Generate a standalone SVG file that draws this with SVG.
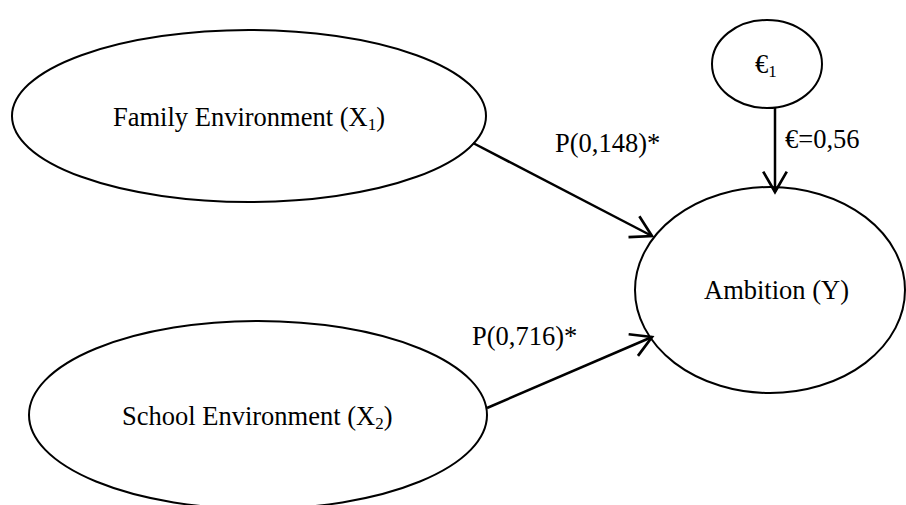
<svg xmlns="http://www.w3.org/2000/svg" width="906" height="505" viewBox="0 0 906 505">
<style>
  .node { fill: #fff; stroke: #000; stroke-width: 2; }
  .lbl { font-family: "Liberation Serif", "Times New Roman", serif; font-size: 26.5px; fill: #000; }
  .sub { font-size: 17px; }
  .edge { stroke: #000; stroke-width: 2.5; fill: none; marker-end: url(#arr); }
</style>
<defs>
  <marker id="arr" markerUnits="userSpaceOnUse" markerWidth="30" markerHeight="30" viewBox="-24 -14 28 28" refX="0" refY="0" orient="auto" overflow="visible">
    <path d="M-19,-11 L0,0 L-19,11" fill="none" stroke="#000" stroke-width="2.5" stroke-linejoin="miter"/>
  </marker>
</defs>
<rect width="906" height="505" fill="#fff"/>
<g id="family">
  <ellipse class="node" cx="249" cy="116" rx="237" ry="86"/>
  <text class="lbl" x="113" y="126">Family Environment (X<tspan class="sub" dy="4">1</tspan><tspan dy="-4">)</tspan></text>
</g>
<g id="school">
  <ellipse class="node" cx="258" cy="415" rx="229" ry="94"/>
  <text class="lbl" x="122" y="425">School Environment (X<tspan class="sub" dy="4">2</tspan><tspan dy="-4">)</tspan></text>
</g>
<g id="epsilon">
  <ellipse class="node" cx="767" cy="64" rx="55" ry="44"/>
  <text class="lbl" x="755" y="73">€<tspan class="sub" dy="4">1</tspan></text>
</g>
<g id="ambition">
  <ellipse class="node" cx="770" cy="290" rx="135" ry="103"/>
  <text class="lbl" x="704" y="299">Ambition (Y)</text>
</g>
<g id="connectors">
  <line class="edge" x1="473" y1="143" x2="652" y2="236"/>
  <line class="edge" x1="487" y1="408" x2="652" y2="337"/>
  <line class="edge" x1="775" y1="108" x2="775" y2="192"/>
  <text class="lbl" x="555" y="152">P(0,148)*</text>
  <text class="lbl" x="472" y="345">P(0,716)*</text>
  <text class="lbl" x="785" y="148">€=0,56</text>
</g>
</svg>
